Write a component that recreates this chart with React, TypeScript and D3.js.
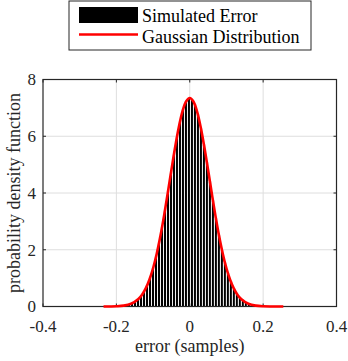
import React from "react";
import * as d3 from "d3";

// Histogram (probability density) — bin edges span binStart..binEnd
const binStart = -0.235;
const binEnd = 0.255;
const histValues = [
  0.001, 0.002, 0.003, 0.005, 0.009, 0.016, 0.028, 0.045, 0.071, 0.11,
  0.17, 0.25, 0.37, 0.52, 0.73, 1.0, 1.33, 1.74, 2.23, 2.77,
  3.39, 4.04, 4.7, 5.36, 5.98, 6.5, 6.93, 7.22, 7.34, 7.3,
  7.11, 6.76, 6.28, 5.71, 5.07, 4.41, 3.74, 3.11, 2.52, 2.0,
  1.55, 1.18, 0.87, 0.63, 0.45, 0.31, 0.21, 0.14, 0.09, 0.057,
  0.035, 0.021, 0.013, 0.007, 0.004, 0.002, 0.001, 0.001, 0.0, 0.0,
];

// Gaussian curve sample points
const curveX = [
  -0.235, -0.2, -0.18, -0.16, -0.14, -0.13, -0.12, -0.11, -0.1, -0.09, -0.08, -0.07,
  -0.06, -0.05, -0.04, -0.03, -0.02, -0.01, 0, 0.01, 0.02, 0.03, 0.04, 0.05, 0.06,
  0.07, 0.08, 0.09, 0.1, 0.11, 0.12, 0.13, 0.14, 0.16, 0.18, 0.2, 0.255,
];
const curveY = [
  0.0006, 0.008, 0.03, 0.096, 0.265, 0.418, 0.639, 0.944, 1.348, 1.861, 2.483, 3.202,
  3.992, 4.81, 5.604, 6.309, 6.868, 7.226, 7.35, 7.226, 6.868, 6.309, 5.604, 4.81, 3.992,
  3.202, 2.483, 1.861, 1.348, 0.944, 0.639, 0.418, 0.265, 0.096, 0.03, 0.008, 0.0001,
];

const xTicks = [-0.4, -0.2, 0, 0.2, 0.4];
const xTickLabels = ["-0.4", "-0.2", "0", "0.2", "0.4"];
const yTicks = [0, 2, 4, 6, 8];
const legendLabels = ["Simulated Error", "Gaussian Distribution"];
const xLabel = "error (samples)";
const yLabel = "probability density function";

const W = 348;
const H = 361;
const font = "Liberation Serif, DejaVu Serif, serif";
const ts = { fontFamily: font };

export default function App() {
  const left = 43;
  const right = 336.5;
  const top = 79.5;
  const bottom = 306.5;

  const x = d3.scaleLinear().domain([-0.4, 0.4]).range([left, right]);
  const y = d3.scaleLinear().domain([0, 8]).range([bottom, top]);

  const n = histValues.length;
  const bw = (binEnd - binStart) / n;

  const line = d3
    .line<number>()
    .x((_, i) => x(curveX[i]))
    .y((d) => y(d))
    .curve(d3.curveCatmullRom);

  const tick = 3;

  return (
    <svg
      width={W}
      height={H}
      style={{ position: "absolute", left: 0, top: 0, background: "#fff" }}
    >
      <rect x={0} y={0} width={W} height={H} fill="#fff" />
      {/* grid */}
      {xTicks.slice(1, -1).map((t) => (
        <line key={"gx" + t} x1={x(t)} x2={x(t)} y1={top} y2={bottom} stroke="#dedede" strokeWidth={1} />
      ))}
      {yTicks.slice(1, -1).map((t) => (
        <line key={"gy" + t} x1={left} x2={right} y1={y(t)} y2={y(t)} stroke="#dedede" strokeWidth={1} />
      ))}
      {/* histogram bars */}
      {histValues.map((v, i) => {
        const x0 = x(binStart + i * bw);
        const x1 = x(binStart + (i + 1) * bw);
        const yv = y(v);
        return (
          <rect
            key={"b" + i}
            x={x0}
            y={yv}
            width={x1 - x0}
            height={Math.max(0, bottom - yv)}
            fill="#000"
            stroke="#fff"
            strokeWidth={0.9}
          />
        );
      })}
      {/* axes box */}
      <rect x={left} y={top} width={right - left} height={bottom - top} fill="none" stroke="#262626" strokeWidth={1.2} />
      {/* ticks */}
      {xTicks.map((t) => (
        <g key={"xt" + t}>
          <line x1={x(t)} x2={x(t)} y1={bottom} y2={bottom - tick} stroke="#262626" />
          <line x1={x(t)} x2={x(t)} y1={top} y2={top + tick} stroke="#262626" />
        </g>
      ))}
      {yTicks.map((t) => (
        <g key={"yt" + t}>
          <line x1={left} x2={left + tick} y1={y(t)} y2={y(t)} stroke="#262626" />
          <line x1={right} x2={right - tick} y1={y(t)} y2={y(t)} stroke="#262626" />
        </g>
      ))}
      {/* gaussian curve */}
      <path d={line(curveY) || ""} fill="none" stroke="#ff0000" strokeWidth={2.6} strokeLinejoin="round" />
      {/* tick labels */}
      {xTicks.map((t, i) => (
        <text key={"xl" + t} x={x(t)} y={332} textAnchor="middle" fontSize={17} fill="#262626" style={ts}>
          {xTickLabels[i]}
        </text>
      ))}
      {yTicks.map((t) => (
        <text key={"yl" + t} x={36} y={y(t)} dy="0.35em" textAnchor="end" fontSize={17} fill="#262626" style={ts}>
          {t}
        </text>
      ))}
      <text x={x(0)} y={352} textAnchor="middle" fontSize={18} fill="#262626" style={ts}>
        {xLabel}
      </text>
      <text
        transform={`translate(20, ${(top + bottom) / 2}) rotate(-90)`}
        textAnchor="middle"
        fontSize={18}
        fill="#262626"
        style={ts}
      >
        {yLabel}
      </text>
      {/* legend */}
      <rect x={69} y={1} width={242} height={49} fill="#fff" stroke="#262626" strokeWidth={1} />
      <rect x={79} y={7} width={59} height={16} fill="#000" />
      <line x1={79} x2={138} y1={34.5} y2={34.5} stroke="#ff0000" strokeWidth={2.6} />
      <text x={142} y={22} fontSize={18} fill="#000" style={ts}>
        {legendLabels[0]}
      </text>
      <text x={142} y={43} fontSize={18} fill="#000" style={ts}>
        {legendLabels[1]}
      </text>
    </svg>
  );
}
